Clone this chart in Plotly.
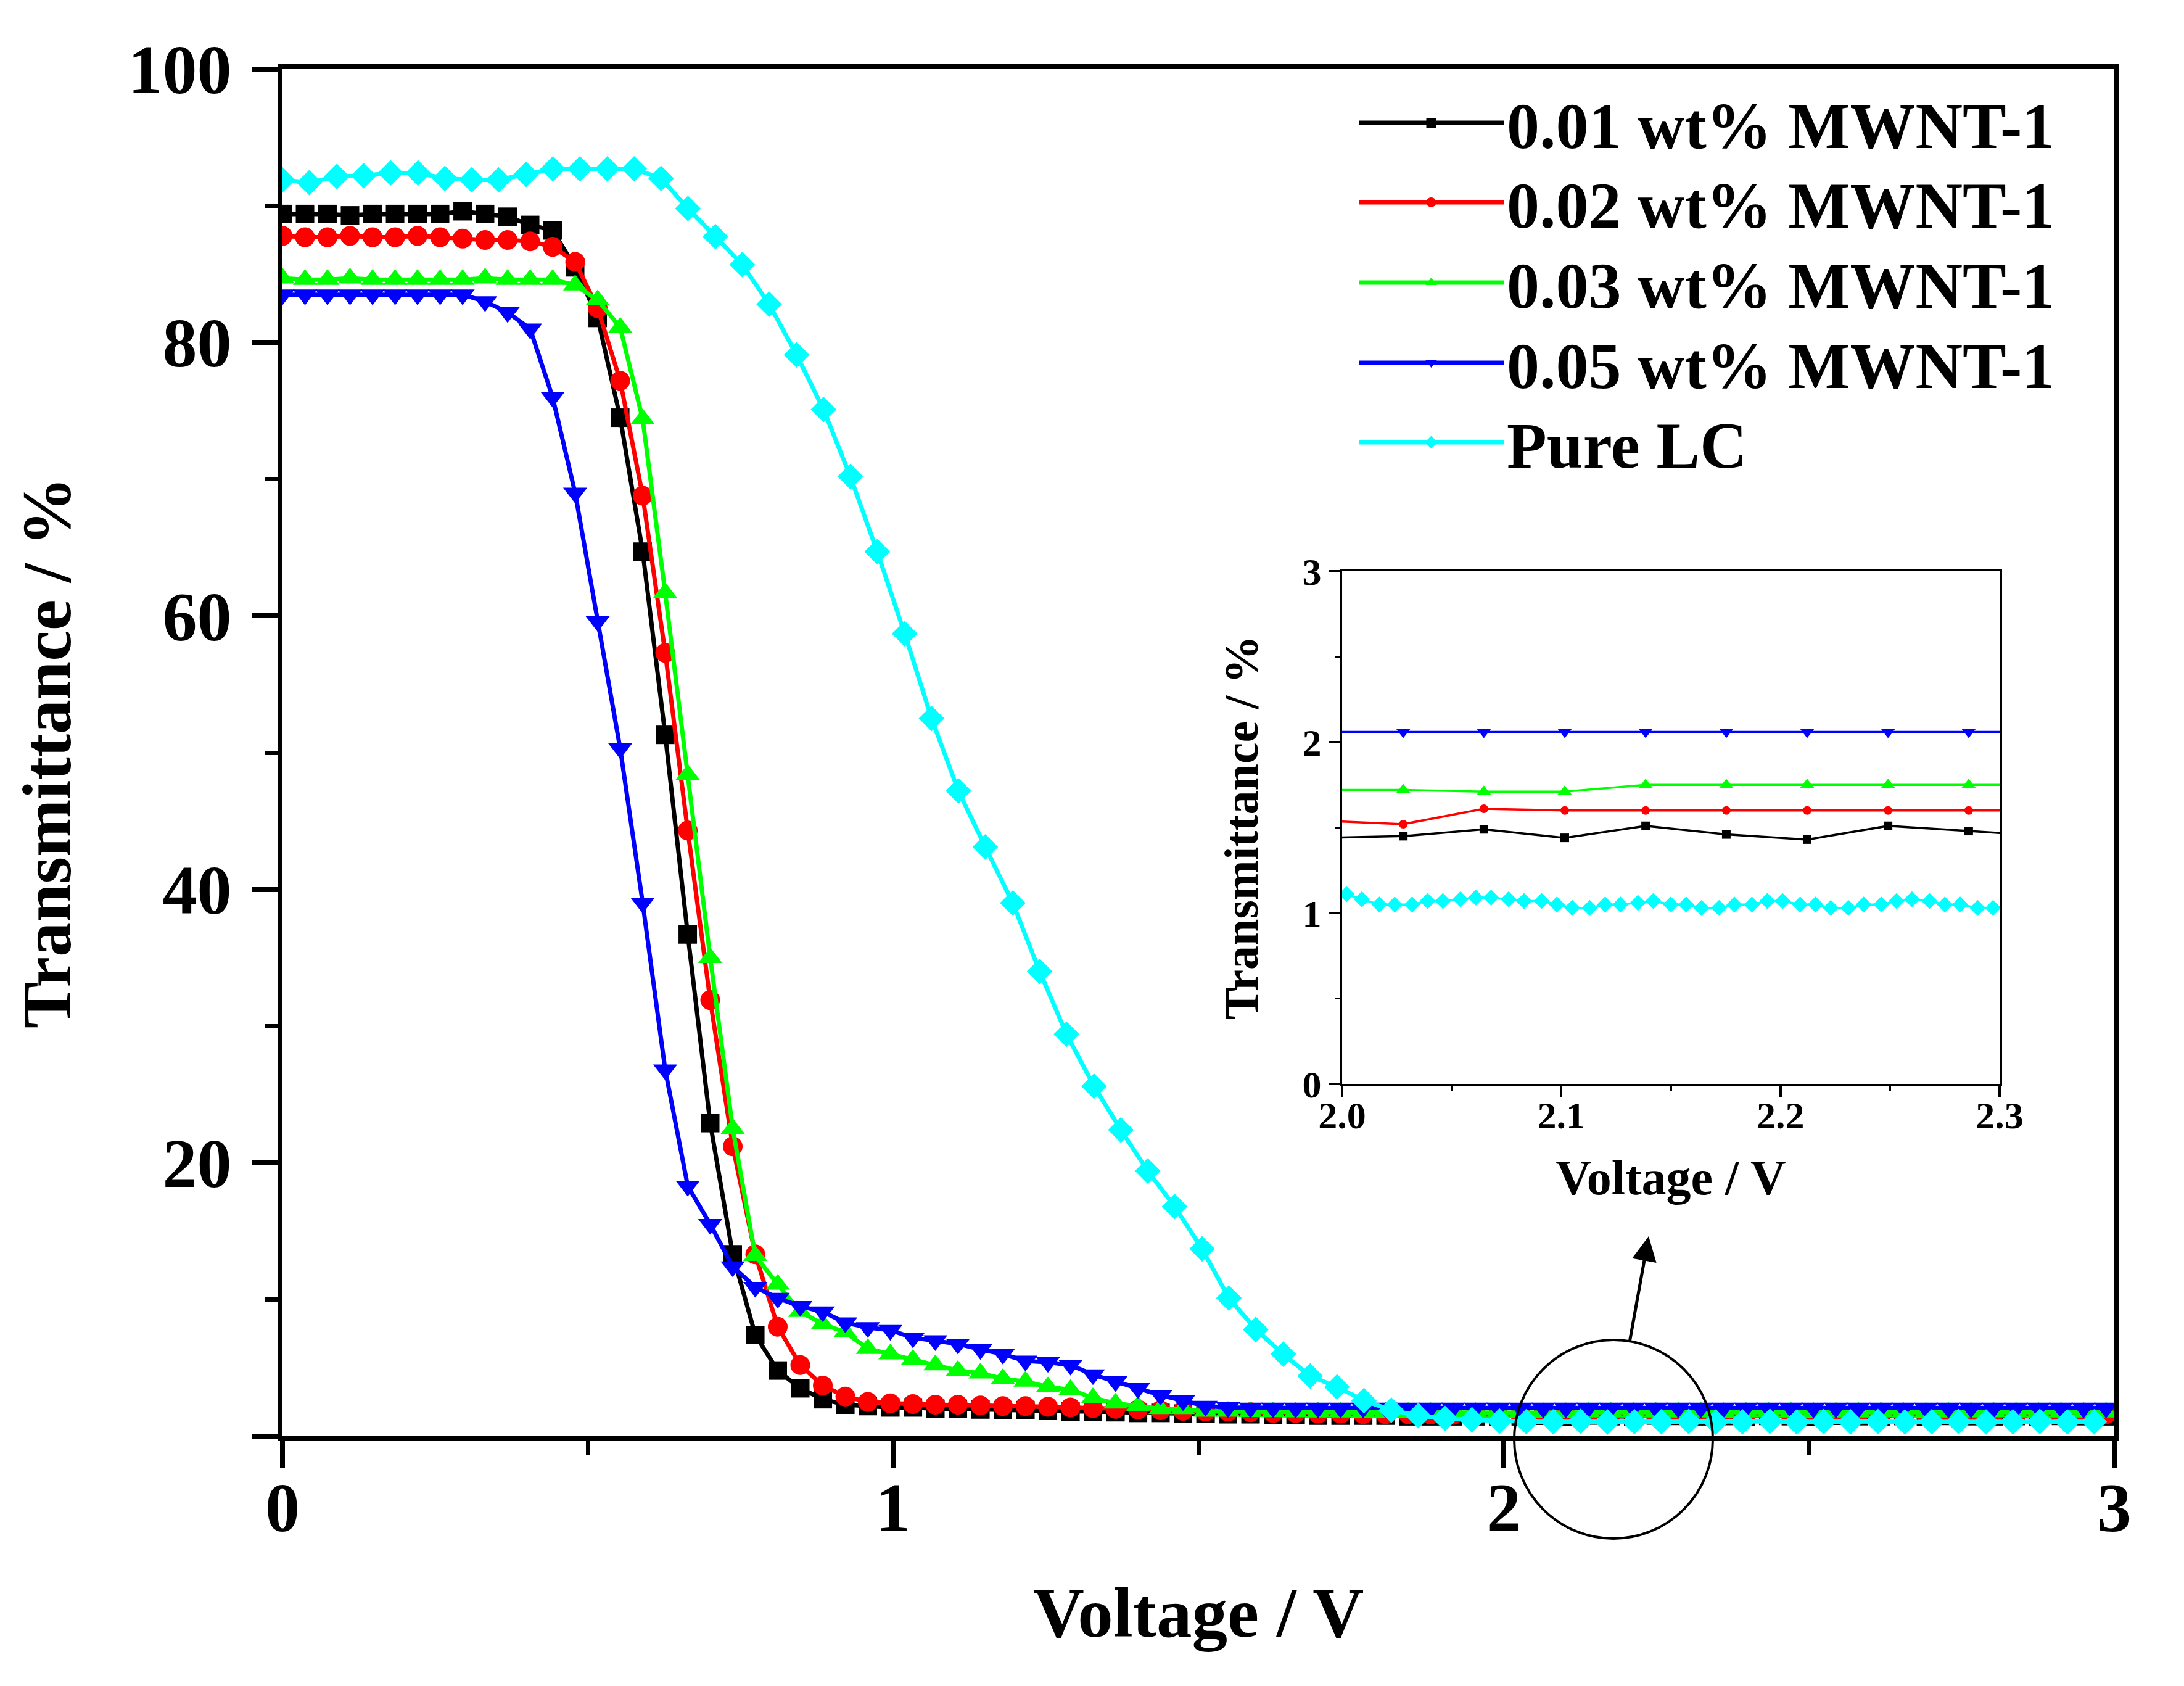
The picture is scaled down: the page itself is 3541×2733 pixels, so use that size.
import plotly.graph_objects as go

# voltage grid shared by the MWNT curves (V)
V = [0, 0.0369, 0.0737, 0.1106, 0.1475, 0.1844, 0.2212, 0.2581, 0.2950, 0.3318,
     0.3687, 0.4056, 0.4424, 0.4793, 0.5162, 0.5531, 0.5899, 0.6268, 0.6637, 0.7005,
     0.7374, 0.7743, 0.8111, 0.8480, 0.8849, 0.9218, 0.9586, 0.9955, 1.0324, 1.0692,
     1.1061, 1.1430, 1.1798, 1.2167, 1.2536, 1.2905, 1.3273, 1.3642, 1.4011, 1.4379,
     1.4748, 1.5117, 1.5485, 1.5854, 1.6223, 1.6592, 1.6960, 1.7329, 1.7698, 1.8066,
     1.8435, 1.8804, 1.9172, 1.9541, 1.9910, 2.0279, 2.0647, 2.1016, 2.1385, 2.1753,
     2.2122, 2.2491, 2.2859, 2.3228, 2.3597, 2.3966, 2.4334, 2.4703, 2.5072, 2.5440,
     2.5809, 2.6178, 2.6546, 2.6915, 2.7284, 2.7653, 2.8021, 2.8390, 2.8759, 2.9127,
     2.9496, 2.9865]

# transmittance (%)
T_001 = [89.4, 89.4, 89.4, 89.3, 89.4, 89.4, 89.4, 89.4, 89.6, 89.4,
         89.2, 88.6, 88.2, 85.5, 81.8, 74.5, 64.7, 51.3, 36.7, 22.9,
         13.3, 7.4, 4.8, 3.5, 2.7, 2.3, 2.2, 2.1, 2.1, 2.0,
         2.0, 1.95, 1.9, 1.9, 1.85, 1.8, 1.8, 1.75, 1.7, 1.7,
         1.65, 1.65, 1.6, 1.6, 1.55, 1.55, 1.5, 1.5, 1.5, 1.5,
         1.45, 1.45, 1.45, 1.45, 1.44, 1.45, 1.49, 1.44, 1.51, 1.46,
         1.43, 1.51, 1.48, 1.45, 1.47, 1.44, 1.48, 1.46, 1.44, 1.49,
         1.46, 1.45, 1.47, 1.44, 1.48, 1.46, 1.45, 1.47, 1.44, 1.48,
         1.46, 1.45]
T_002 = [87.8, 87.7, 87.7, 87.8, 87.7, 87.7, 87.8, 87.7, 87.6, 87.5,
         87.5, 87.4, 87.0, 85.9, 82.5, 77.2, 68.8, 57.3, 44.3, 31.9,
         21.2, 13.3, 8.0, 5.2, 3.7, 2.9, 2.5, 2.4, 2.35, 2.3,
         2.3, 2.25, 2.2, 2.2, 2.15, 2.1, 2.05, 2.0, 1.95, 1.9,
         1.85, 1.8, 1.8, 1.75, 1.7, 1.7, 1.65, 1.65, 1.6, 1.6,
         1.6, 1.58, 1.56, 1.55, 1.54, 1.52, 1.61, 1.60, 1.60, 1.60,
         1.60, 1.60, 1.60, 1.60, 1.59, 1.60, 1.61, 1.60, 1.59, 1.60,
         1.60, 1.61, 1.60, 1.59, 1.60, 1.60, 1.61, 1.60, 1.59, 1.60,
         1.60, 1.60]
T_003 = [84.7, 84.6, 84.6, 84.7, 84.6, 84.6, 84.6, 84.6, 84.6, 84.7,
         84.6, 84.6, 84.6, 84.2, 83.1, 81.1, 74.4, 61.7, 48.4, 35.0,
         22.5, 13.2, 11.1, 9.1, 8.2, 7.6, 6.4, 6.0, 5.6, 5.2,
         4.8, 4.6, 4.2, 4.0, 3.6, 3.4, 2.8, 2.4, 2.2, 2.0,
         2.0, 1.8, 1.8, 1.78, 1.77, 1.76, 1.75, 1.75, 1.74, 1.74,
         1.73, 1.73, 1.72, 1.72, 1.72, 1.72, 1.71, 1.71, 1.75, 1.75,
         1.75, 1.75, 1.75, 1.75, 1.74, 1.75, 1.76, 1.75, 1.74, 1.75,
         1.75, 1.76, 1.75, 1.74, 1.75, 1.75, 1.76, 1.75, 1.74, 1.75,
         1.75, 1.75]
T_005 = [83.5, 83.5, 83.5, 83.5, 83.5, 83.5, 83.5, 83.5, 83.5, 83.0,
         82.2, 81.0, 76.0, 69.0, 59.6, 50.3, 39.0, 26.8, 18.3, 15.5,
         12.4, 10.9, 10.1, 9.5, 9.1, 8.3, 7.95, 7.75, 7.2, 7.0,
         6.75, 6.35, 6.0, 5.5, 5.4, 5.2, 4.5, 4.0, 3.5, 3.0,
         2.6, 2.2, 2.1, 2.07, 2.06, 2.06, 2.06, 2.06, 2.06, 2.06,
         2.06, 2.06, 2.06, 2.06, 2.06, 2.06, 2.06, 2.06, 2.06, 2.06,
         2.06, 2.06, 2.06, 2.06, 2.06, 2.06, 2.06, 2.06, 2.06, 2.06,
         2.06, 2.06, 2.06, 2.06, 2.06, 2.06, 2.06, 2.06, 2.06, 2.06,
         2.06, 2.06]

# pure LC is sampled on its own grid
V_LC = [0, 0.044, 0.089, 0.133, 0.177, 0.222, 0.266, 0.310, 0.354, 0.399,
        0.443, 0.487, 0.532, 0.576, 0.620, 0.664, 0.709, 0.753, 0.797, 0.842,
        0.886, 0.930, 0.974, 1.019, 1.063, 1.107, 1.151, 1.196, 1.240, 1.284,
        1.329, 1.373, 1.417, 1.461, 1.506, 1.550, 1.594, 1.639, 1.683, 1.727,
        1.771, 1.816, 1.860, 1.904, 1.948, 1.993, 2.037, 2.081, 2.126, 2.170,
        2.214, 2.258, 2.303, 2.347, 2.391, 2.436, 2.480, 2.524, 2.568, 2.613,
        2.657, 2.701, 2.745, 2.790, 2.834, 2.878, 2.923, 2.967]
T_LC = [91.9, 91.7, 92.15, 92.2, 92.4, 92.4, 92.0, 91.9, 91.9, 92.3,
        92.7, 92.7, 92.7, 92.7, 92.0, 89.8, 87.75, 85.7, 82.8, 79.1,
        75.1, 70.2, 64.7, 58.7, 52.5, 47.2, 43.1, 39.0, 34.0, 29.4,
        25.6, 22.4, 19.4, 16.8, 13.7, 10.1, 7.8, 6.0, 4.4, 3.6,
        2.6, 1.9, 1.5, 1.3, 1.2, 1.1, 1.06, 1.05, 1.08, 1.04,
        1.06, 1.05, 1.07, 1.03, 1.05, 1.08, 1.04, 1.06, 1.05, 1.07,
        1.04, 1.05, 1.06, 1.04, 1.05, 1.07, 1.04, 1.05]

# pure LC at full resolution for the zoomed inset
V_LC_INSET = [2.002, 2.009, 2.017, 2.024, 2.032, 2.039, 2.046, 2.054, 2.061, 2.068,
              2.076, 2.083, 2.091, 2.098, 2.105, 2.113, 2.120, 2.127, 2.135, 2.142,
              2.150, 2.157, 2.164, 2.172, 2.179, 2.187, 2.194, 2.201, 2.209, 2.216,
              2.223, 2.231, 2.238, 2.246, 2.253, 2.260, 2.268, 2.275, 2.282, 2.290,
              2.297]
T_LC_INSET = [1.11, 1.08, 1.05, 1.05, 1.05, 1.07, 1.07, 1.08, 1.09, 1.09,
              1.08, 1.07, 1.07, 1.05, 1.03, 1.03, 1.05, 1.05, 1.06, 1.07,
              1.05, 1.05, 1.03, 1.03, 1.05, 1.05, 1.07, 1.07, 1.05, 1.05,
              1.03, 1.03, 1.05, 1.05, 1.07, 1.08, 1.07, 1.05, 1.05, 1.03,
              1.03]

NAMES = ['0.01 wt% MWNT-1', '0.02 wt% MWNT-1', '0.03 wt% MWNT-1', '0.05 wt% MWNT-1', 'Pure LC']

X_TICKS = [0, 1, 2, 3]
Y_TICKS = [0, 20, 40, 60, 80, 100]
Y_TICK_TEXT = ['', '20', '40', '60', '80', '100']
X2_TICKS = [2.0, 2.1, 2.2, 2.3]
Y2_TICKS = [0, 1, 2, 3]

FONT = 'Liberation Serif'
# page body has an 8px margin, so the figure is a bit smaller than the window
PAGE_OFF = 8
W, H = 3541 - PAGE_OFF, 2733 - PAGE_OFF


def px(p):
    return (p - PAGE_OFF) / W


def py(p):
    return 1 - (p - PAGE_OFF) / H


series = [
    (T_001, '#000000', 'square', 30, 14),
    (T_002, '#ff0000', 'circle', 32, 14),
    (T_003, '#00ff00', 'triangle-up', 34, 20),
    (T_005, '#0000ff', 'triangle-down', 34, 20),
]
# one legend box per entry so the row spacing can follow the original
legend_ids = ['legend', 'legend2', 'legend3', 'legend4', 'legend5']
legend_rows = [199, 328, 458, 588, 717]

fig = go.Figure()

# main plot
for (t, color, symbol, size, _), name, lg in zip(series, NAMES[:4], legend_ids):
    fig.add_trace(go.Scatter(x=V, y=t, mode='lines+markers', name=name, legend=lg,
                             line=dict(color=color, width=7),
                             marker=dict(symbol=symbol, size=size, color=color)))
fig.add_trace(go.Scatter(x=V_LC, y=T_LC, mode='lines+markers', name=NAMES[4], legend=legend_ids[4],
                         line=dict(color='#00ffff', width=7),
                         marker=dict(symbol='diamond', size=32, color='#00ffff')))

# inset, same data on a zoomed axis
for t, color, symbol, _, size in series:
    fig.add_trace(go.Scatter(x=V, y=t, mode='lines+markers', showlegend=False,
                             xaxis='x2', yaxis='y2',
                             line=dict(color=color, width=3.5),
                             marker=dict(symbol=symbol, size=size, color=color)))
fig.add_trace(go.Scatter(x=V_LC_INSET, y=T_LC_INSET, mode='lines+markers', showlegend=False,
                         xaxis='x2', yaxis='y2',
                         line=dict(color='#00ffff', width=3.5),
                         marker=dict(symbol='diamond', size=20, color='#00ffff')))

axis_common = dict(showgrid=False, zeroline=False, linecolor='black', mirror=True,
                   ticks='outside', tickcolor='black', automargin=False)
big_font = dict(family=FONT, size=112, color='black', weight='bold')
small_font = dict(family=FONT, size=62, color='black', weight='bold')

fig.update_layout(
    width=W, height=H,
    margin=dict(l=0, r=0, t=0, b=0),
    paper_bgcolor='white', plot_bgcolor='white',
    xaxis=dict(axis_common, domain=[px(458), px(3428)], range=[0, 3],
               tickmode='array', tickvals=X_TICKS, linewidth=8, tickwidth=8, ticklen=44,
               minor=dict(tickvals=[0.5, 1.5, 2.5], ticklen=22, tickwidth=7, ticks='outside', tickcolor='black'),
               tickfont=big_font, ticklabelstandoff=-32,
               title=dict(text='Voltage / V', standoff=70,
                          font=dict(family=FONT, size=115, color='black', weight='bold'))),
    yaxis=dict(axis_common, domain=[py(2328), py(112)], range=[0, 100],
               tickmode='array', tickvals=Y_TICKS, ticktext=Y_TICK_TEXT,
               linewidth=8, tickwidth=8, ticklen=42,
               minor=dict(tickvals=[10, 30, 50, 70, 90], ticklen=20, tickwidth=7, ticks='outside', tickcolor='black'),
               tickfont=big_font, ticklabelstandoff=10,
               title=dict(text='Transmittance / %', standoff=58,
                          font=dict(family=FONT, size=112, color='black', weight='bold'))),
    xaxis2=dict(axis_common, domain=[px(2176), px(3242)], anchor='y2', range=[2.0, 2.3],
                tickmode='array', tickvals=X2_TICKS, tickformat='.1f',
                linewidth=4, tickwidth=4, ticklen=17,
                minor=dict(tickvals=[2.05, 2.15, 2.25], ticklen=8, tickwidth=3, ticks='outside', tickcolor='black'),
                tickfont=small_font, ticklabelstandoff=-23,
                title=dict(text='Voltage / V', standoff=40,
                           font=dict(family=FONT, size=80, color='black', weight='bold'))),
    yaxis2=dict(axis_common, domain=[py(1757), py(926)], anchor='x2', range=[0, 3],
                tickmode='array', tickvals=Y2_TICKS,
                linewidth=4, tickwidth=4, ticklen=17,
                minor=dict(tickvals=[0.5, 1.5, 2.5], ticklen=8, tickwidth=3, ticks='outside', tickcolor='black'),
                tickfont=small_font,
                title=dict(text='Transmittance / %', standoff=47,
                           font=dict(family=FONT, size=78, color='black', weight='bold'))),
)

for lg, row in zip(legend_ids, legend_rows):
    fig.update_layout({lg: dict(x=px(2198), y=py(row), xanchor='left', yanchor='middle',
                                bgcolor='rgba(0,0,0,0)', itemwidth=235,
                                font=dict(family=FONT, size=106, color='black', weight='bold'))})

# circle marking the zoomed region and the arrow to the inset
fig.add_shape(type='circle', xref='paper', yref='paper',
              x0=px(2455), x1=px(2777), y0=py(2494), y1=py(2172),
              line=dict(color='black', width=4))
fig.add_annotation(xref='paper', yref='paper', x=px(2673), y=py(2004),
                   ax=-31, ay=172, text='', showarrow=True,
                   arrowhead=2, arrowsize=1.6, arrowwidth=5, arrowcolor='black')

fig.write_html("out.html")
